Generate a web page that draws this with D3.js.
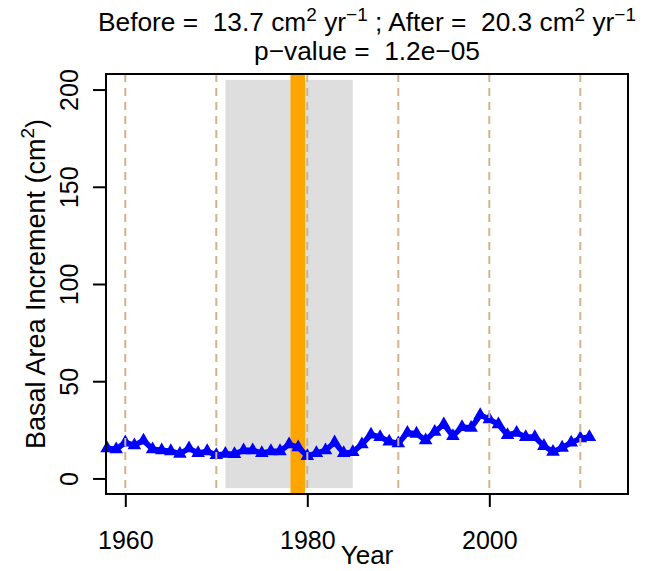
<!DOCTYPE html>
<html><head><meta charset="utf-8">
<script src="https://cdn.jsdelivr.net/npm/d3@7"></script>
<style>
body{margin:0;background:#fff;}
text{font-family:"Liberation Sans",Arial,sans-serif;fill:#000;white-space:pre;}
</style></head>
<body>
<script>
const years = [1958,1959,1960,1961,1962,1963,1964,1965,1966,1967,1968,1969,1970,1971,1972,1973,1974,1975,1976,1977,1978,1979,1980,1981,1982,1983,1984,1985,1986,1987,1988,1989,1990,1991,1992,1993,1994,1995,1996,1997,1998,1999,2000,2001,2002,2003,2004,2005,2006,2007,2008,2009,2010,2011];
const bai = [15.5,15,18.5,17,19.5,15,14.5,14,12.7,15.5,13,14,12,12.7,12.5,14.5,14.5,13,14,14,17.5,16,11.5,13,14.5,18.5,13,13.5,17.5,22.5,21.3,19,18,23.5,23,19.6,24,27.8,21.8,26.4,26,32.6,30.4,27.8,22.3,23.5,21.3,21.3,16.7,13.7,15.8,18.4,20.6,21.3];
const xTicks = [1960,1980,2000];
const yTicks = [0,50,100,150,200];
const decadeLines = [1960,1970,1980,1990,2000,2010];
const shadePeriod = [1971,1985];
const shadeRange = [-5,205];
const eventPeriod = [1978.15,1979.75];
const beforeRate = "13.7", afterRate = "20.3", pValue = "1.2e\u221205";

const W=658,H=571, FS=25, LFS=27, TFS=26.3, SUP=19;
const box={l:106,r:628,t:74,b:494};
const svg=d3.select("body").append("svg").attr("width",W).attr("height",H);
const x=d3.scaleLinear().domain([1957.88,2015.24]).range([box.l,box.r]);
const y=d3.scaleLinear().domain([-8,208]).range([box.b,box.t]);

// shaded period
svg.append("rect").attr("x",x(shadePeriod[0])).attr("width",x(shadePeriod[1])-x(shadePeriod[0]))
  .attr("y",y(shadeRange[1])).attr("height",y(shadeRange[0])-y(shadeRange[1])).attr("fill","#DEDEDE");
// event bar
svg.append("rect").attr("x",x(eventPeriod[0])).attr("width",x(eventPeriod[1])-x(eventPeriod[0]))
  .attr("y",box.t).attr("height",box.b-box.t).attr("fill","#FFA500");

// data line
const data=years.map((yr,i)=>({yr,v:bai[i]}));
svg.append("path").datum(data).attr("fill","none").attr("stroke","#0000FF").attr("stroke-width",5.5)
  .attr("stroke-linejoin","round")
  .attr("d",d3.line().x(d=>x(d.yr)).y(d=>y(d.v)));
svg.selectAll("path.pt").data(data).enter().append("path").attr("class","pt")
  .attr("transform",d=>`translate(${x(d.yr)},${y(d.v)})`)
  .attr("d",d3.symbol().type(d3.symbolTriangle).size(80)).attr("fill","#0000FF");

// decade dashed lines
svg.selectAll("line.dec").data(decadeLines).enter().append("line").attr("class","dec")
  .attr("x1",d=>x(d)).attr("x2",d=>x(d)).attr("y1",box.t).attr("y2",box.b)
  .attr("stroke","#D2B48C").attr("stroke-width",2).attr("stroke-dasharray","8,6");

// box
svg.append("rect").attr("x",box.l).attr("y",box.t).attr("width",box.r-box.l).attr("height",box.b-box.t)
  .attr("fill","none").attr("stroke","#000").attr("stroke-width",2);

// axes
const xa=svg.append("g").attr("transform",`translate(0,${box.b})`)
  .call(d3.axisBottom(x).tickValues(xTicks).tickFormat(d3.format("d")).tickSize(13).tickSizeOuter(0));
const ya=svg.append("g").attr("transform",`translate(${box.l},0)`)
  .call(d3.axisLeft(y).tickValues(yTicks).tickSize(13).tickSizeOuter(0));
[xa,ya].forEach(g=>{g.select(".domain").remove();g.selectAll(".tick line").attr("stroke-width",2);
  g.selectAll("text").attr("font-size",FS).attr("font-family","Liberation Sans, Arial, sans-serif");});
xa.append("line").attr("x1",x(xTicks[0])).attr("x2",x(xTicks[xTicks.length-1])).attr("stroke","#000").attr("stroke-width",2);
ya.append("line").attr("y1",y(yTicks[0])).attr("y2",y(yTicks[yTicks.length-1])).attr("stroke","#000").attr("stroke-width",2);
xa.selectAll(".tick text").attr("dy",null).attr("y",0).attr("transform","translate(0,55)");
ya.selectAll(".tick text").attr("x",null).attr("dy",null).attr("y",0).attr("text-anchor","middle")
  .attr("transform","translate(-28,0) rotate(-90)");

// axis labels
svg.append("text").attr("x",(box.l+box.r)/2).attr("y",564).attr("text-anchor","middle").attr("font-size",26).text("Year");
const yl=svg.append("text").attr("transform",`translate(45,${(box.t+box.b)/2}) rotate(-90)`)
  .attr("text-anchor","middle").attr("font-size",LFS);
yl.append("tspan").text("Basal Area Increment (cm");
yl.append("tspan").attr("font-size",SUP).attr("dy",-11).text("2");
yl.append("tspan").attr("dy",11).text(")");

// title
const t1=svg.append("text").attr("x",(box.l+box.r)/2).attr("y",31).attr("text-anchor","middle").attr("font-size",TFS);
t1.append("tspan").text(`Before =  ${beforeRate} cm`);
t1.append("tspan").attr("font-size",SUP).attr("dy",-10).text("2");
t1.append("tspan").attr("dy",10).text(" yr");
t1.append("tspan").attr("font-size",SUP).attr("dy",-10).text("\u22121");
t1.append("tspan").attr("dy",10).text(` ; After =  ${afterRate} cm`);
t1.append("tspan").attr("font-size",SUP).attr("dy",-10).text("2");
t1.append("tspan").attr("dy",10).text(" yr");
t1.append("tspan").attr("font-size",SUP).attr("dy",-10).text("\u22121");
svg.append("text").attr("x",(box.l+box.r)/2).attr("y",60).attr("text-anchor","middle").attr("font-size",TFS)
  .text(`p\u2212value =  ${pValue}`);
</script>
</body></html>
